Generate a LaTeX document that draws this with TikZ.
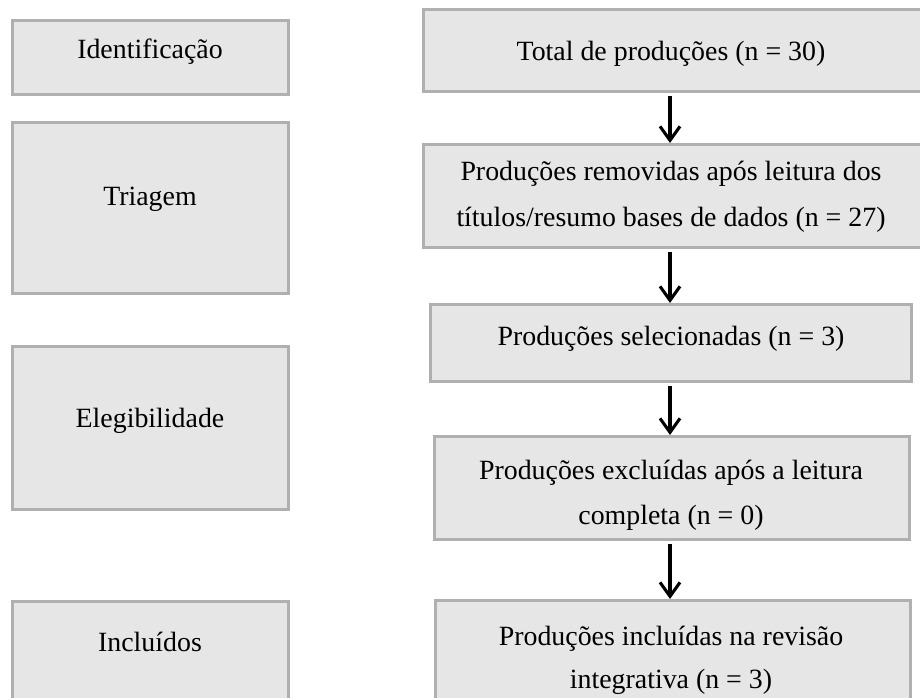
\documentclass[tikz,border=0pt]{standalone}
\usepackage{fontspec}
\setmainfont{Liberation Serif}
\usetikzlibrary{arrows.meta}
\definecolor{boxfill}{HTML}{E6E6E6}
\definecolor{boxline}{HTML}{B0B0B0}
\begin{document}
\begin{tikzpicture}[x=0.75pt,y=-0.75pt,
  box/.style={draw=boxline,fill=boxfill,line width=2.25pt,inner sep=0pt,rectangle},
  txt/.style={inner sep=0pt,anchor=base,font=\fontsize{20.9}{33.75}\selectfont},
  arr/.style={line width=2.3pt,-{Straight Barb[length=10.5pt,width=15pt,line width=2.3pt]}}]
\useasboundingbox (0,0) rectangle (920,698);
% left column
\node[box,minimum width=207pt,minimum height=55.5pt] (l1) at (150.5,57.5) {};
\node[box,minimum width=207pt,minimum height=128.25pt] (l2) at (150.5,208) {};
\node[box,minimum width=207pt,minimum height=122.25pt] (l3) at (150.5,428) {};
\node[box,minimum width=207pt,minimum height=76.5pt] (l4) at (150.5,652.5) {};
\node[txt] (tl1) at (150,59) {Identificação};
\node[txt] (tl2) at (150,206) {Triagem};
\node[txt] (tl3) at (150,427) {Elegibilidade};
\node[txt] (tl4) at (150,651) {Incluídos};
% right column
\node[box,minimum width=375pt,minimum height=61.5pt] (r1) at (673.5,50.5) {};
\node[box,minimum width=375pt,minimum height=77.25pt] (r2) at (673.5,196) {};
\node[box,minimum width=360.75pt,minimum height=57.75pt] (r3) at (671,343) {};
\node[box,minimum width=356.25pt,minimum height=77.25pt] (r4) at (672,488) {};
\node[box,minimum width=356.25pt,minimum height=77.25pt] (r5) at (673,652) {};
\node[txt] (tr1) at (671,61) {Total de produções (n = 30)};
\node[txt] (tr2a) at (671,181) {Produções removidas após leitura dos};
\node[txt] (tr2b) at (671,227) {títulos/resumo bases de dados (n = 27)};
\node[txt] (tr3) at (671,345) {Produções selecionadas (n = 3)};
\node[txt] (tr4a) at (671,479) {Produções excluídas após a leitura};
\node[txt] (tr4b) at (671,524) {completa (n = 0)};
\node[txt] (tr5a) at (671,645) {Produções incluídas na revisão};
\node[txt] (tr5b) at (671,688) {integrativa (n = 3)};
% arrows
\coordinate (ax) at (670,0);
\draw[arr] ([yshift=-2pt]r1.south -| ax) -- (r2.north -| ax);
\draw[arr] ([yshift=-2pt]r2.south -| ax) -- (r3.north -| ax);
\draw[arr] ([yshift=-2pt]r3.south -| ax) -- (r4.north -| ax);
\draw[arr] ([yshift=-2pt]r4.south -| ax) -- (r5.north -| ax);
\end{tikzpicture}
\end{document}
